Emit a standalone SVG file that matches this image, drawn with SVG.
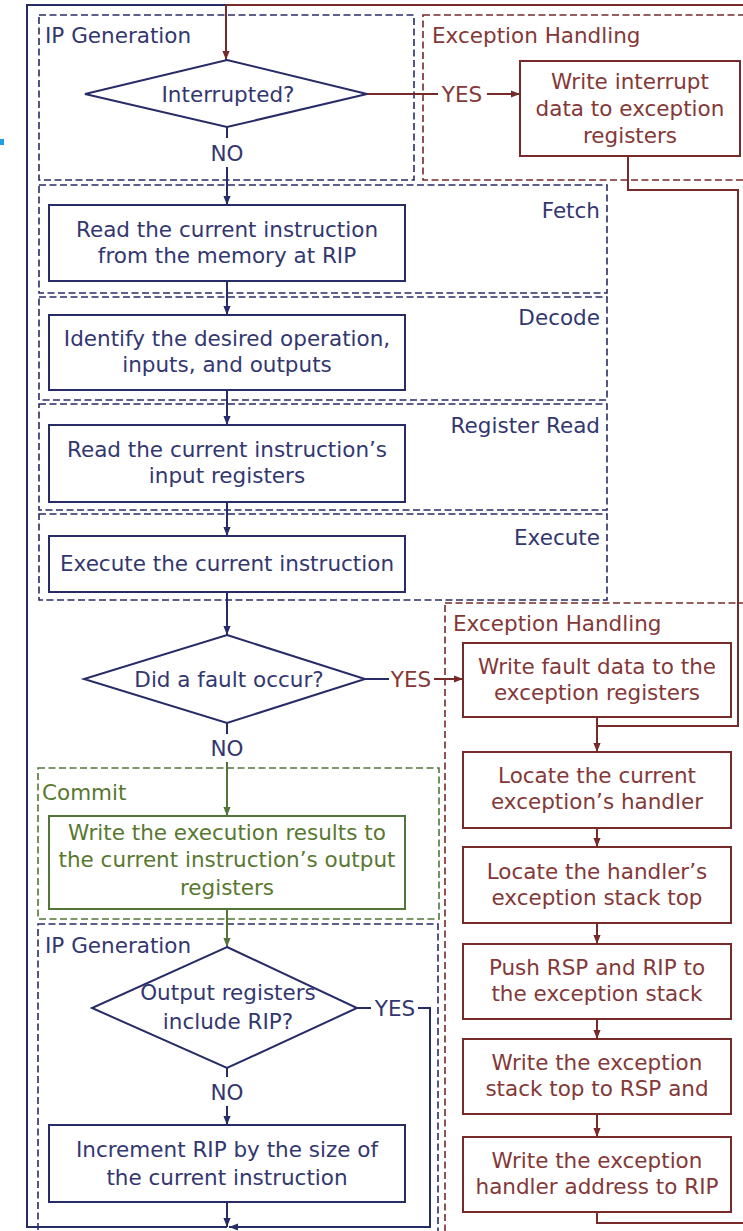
<svg xmlns="http://www.w3.org/2000/svg" width="743" height="1231" viewBox="0 0 743 1231">
<style>
.t{font-family:"DejaVu Sans","Liberation Sans",sans-serif;font-size:21.5px}
.c{text-anchor:middle}
.e{text-anchor:end}
.tn{fill:#333770}
.tr{fill:#843838}
.tg{fill:#587830}
.ln{fill:none;stroke-width:2}
.n{stroke:#272c66}
.r{stroke:#762a2a}
.g{stroke:#52763a}
.d{fill:none;stroke-width:1.6;stroke-dasharray:7 3.5}
.bx{fill:#fff;stroke-width:2}
</style>
<defs>
<marker id="an" viewBox="0 0 10 10" refX="10" refY="5" markerWidth="9" markerHeight="9" markerUnits="userSpaceOnUse" orient="auto"><path d="M0,1 L10,5 L0,9 z" fill="#272c66"/></marker>
<marker id="ar" viewBox="0 0 10 10" refX="10" refY="5" markerWidth="9" markerHeight="9" markerUnits="userSpaceOnUse" orient="auto"><path d="M0,1 L10,5 L0,9 z" fill="#762a2a"/></marker>
<marker id="ag" viewBox="0 0 10 10" refX="10" refY="5" markerWidth="9" markerHeight="9" markerUnits="userSpaceOnUse" orient="auto"><path d="M0,1 L10,5 L0,9 z" fill="#52763a"/></marker>
</defs>
<rect x="0" y="0" width="743" height="1231" fill="#fff"/>
<rect x="0" y="139" width="4" height="6" fill="#1f9fe6"/>

<g id="stages">
<g id="ipgen1"><rect class="d n" x="39" y="15" width="375" height="165"/><text class="t tn" x="45" y="43">IP Generation</text></g>
<g id="exc1"><rect class="d r" x="423" y="15" width="340" height="165"/><text class="t tr" x="432" y="43">Exception Handling</text></g>
<g id="fetch"><rect class="d n" x="39" y="185" width="568" height="108"/><text class="t tn e" x="600" y="218">Fetch</text></g>
<g id="decode"><rect class="d n" x="39" y="297" width="568" height="103"/><text class="t tn e" x="600" y="325">Decode</text></g>
<g id="regread"><rect class="d n" x="39" y="404" width="568" height="106"/><text class="t tn e" x="600" y="433">Register Read</text></g>
<g id="execute"><rect class="d n" x="39" y="514" width="568" height="86"/><text class="t tn e" x="600" y="545">Execute</text></g>
<g id="exc2"><rect class="d r" x="445" y="603" width="320" height="640"/><text class="t tr" x="453" y="631">Exception Handling</text></g>
<g id="commit"><rect class="d g" x="38" y="768" width="401" height="151"/><text class="t tg" x="42" y="800">Commit</text></g>
<g id="ipgen2"><rect class="d n" x="38" y="924" width="400" height="320"/><text class="t tn" x="45" y="953">IP Generation</text></g>
</g>

<g id="connectors">
<polyline class="ln n" points="227,1227 27,1227 27,5 226,5"/>
<polyline class="ln r" points="226,5 750,5"/>
<line class="ln r" x1="226" y1="5" x2="226" y2="60" marker-end="url(#ar)"/>
<line class="ln r" x1="367" y1="94" x2="438" y2="94"/>
<line class="ln r" x1="487" y1="94" x2="520" y2="94" marker-end="url(#ar)"/>
<line class="ln n" x1="227" y1="127" x2="227" y2="138"/>
<line class="ln n" x1="227" y1="167" x2="227" y2="205" marker-end="url(#an)"/>
<line class="ln n" x1="227" y1="281" x2="227" y2="315" marker-end="url(#an)"/>
<line class="ln n" x1="227" y1="390" x2="227" y2="425" marker-end="url(#an)"/>
<line class="ln n" x1="227" y1="502" x2="227" y2="536" marker-end="url(#an)"/>
<line class="ln n" x1="227" y1="592" x2="227" y2="635" marker-end="url(#an)"/>
<line class="ln n" x1="227" y1="723" x2="227" y2="734"/>
<line class="ln g" x1="227" y1="762" x2="227" y2="816" marker-end="url(#ag)"/>
<line class="ln g" x1="227" y1="909" x2="227" y2="947" marker-end="url(#ag)"/>
<line class="ln n" x1="227" y1="1068" x2="227" y2="1077"/>
<line class="ln n" x1="227" y1="1106" x2="227" y2="1125" marker-end="url(#an)"/>
<line class="ln n" x1="227" y1="1202" x2="227" y2="1227" marker-end="url(#an)"/>
<line class="ln n" x1="357" y1="1008" x2="371" y2="1008"/>
<polyline class="ln n" points="418,1008 430,1008 430,1227 229,1227" marker-end="url(#an)"/>
<line class="ln n" x1="365" y1="679" x2="389" y2="679"/>
<line class="ln r" x1="434" y1="679" x2="463" y2="679" marker-end="url(#ar)"/>
<polyline class="ln r" points="628,156 628,190 738,190 738,726 597,726"/>
<line class="ln r" x1="597" y1="717" x2="597" y2="752" marker-end="url(#ar)"/>
<line class="ln r" x1="597" y1="828" x2="597" y2="847" marker-end="url(#ar)"/>
<line class="ln r" x1="597" y1="923" x2="597" y2="944" marker-end="url(#ar)"/>
<line class="ln r" x1="597" y1="1019" x2="597" y2="1039" marker-end="url(#ar)"/>
<line class="ln r" x1="597" y1="1114" x2="597" y2="1137" marker-end="url(#ar)"/>
<polyline class="ln r" points="597,1212 597,1223 750,1223"/>
</g>

<g id="labels">
<text class="t tn c" x="227" y="161">NO</text>
<text class="t tr c" x="462" y="102">YES</text>
<text class="t tr c" x="411" y="687">YES</text>
<text class="t tn c" x="227" y="756">NO</text>
<text class="t tn c" x="395" y="1016">YES</text>
<text class="t tn c" x="227" y="1100">NO</text>
</g>

<g id="interrupted"><polygon class="bx n" points="227,60 367,94 227,127 85,94"/><text class="t tn c" x="228" y="102">Interrupted?</text></g>
<g id="write-interrupt"><rect class="bx r" x="520" y="61" width="220" height="95"/><text class="t tr c" x="630" y="89">Write interrupt</text><text class="t tr c" x="630" y="116">data to exception</text><text class="t tr c" x="630" y="143">registers</text></g>
<g id="read-instr"><rect class="bx n" x="49" y="205" width="356" height="76"/><text class="t tn c" x="227" y="237">Read the current instruction</text><text class="t tn c" x="227" y="263">from the memory at RIP</text></g>
<g id="identify"><rect class="bx n" x="49" y="315" width="356" height="75"/><text class="t tn c" x="227" y="346">Identify the desired operation,</text><text class="t tn c" x="227" y="372">inputs, and outputs</text></g>
<g id="read-regs"><rect class="bx n" x="49" y="425" width="356" height="77"/><text class="t tn c" x="227" y="457">Read the current instruction’s</text><text class="t tn c" x="227" y="483">input registers</text></g>
<g id="exec"><rect class="bx n" x="49" y="536" width="356" height="56"/><text class="t tn c" x="227" y="571">Execute the current instruction</text></g>
<g id="fault"><polygon class="bx n" points="227,635 365,679 227,723 84,679"/><text class="t tn c" x="229" y="687">Did a fault occur?</text></g>
<g id="write-fault"><rect class="bx r" x="463" y="643" width="268" height="74"/><text class="t tr c" x="597" y="674">Write fault data to the</text><text class="t tr c" x="597" y="700">exception registers</text></g>
<g id="locate-handler"><rect class="bx r" x="463" y="752" width="268" height="76"/><text class="t tr c" x="597" y="783">Locate the current</text><text class="t tr c" x="597" y="809">exception’s handler</text></g>
<g id="locate-stack"><rect class="bx r" x="463" y="847" width="268" height="76"/><text class="t tr c" x="597" y="879">Locate the handler’s</text><text class="t tr c" x="597" y="905">exception stack top</text></g>
<g id="push"><rect class="bx r" x="463" y="944" width="268" height="75"/><text class="t tr c" x="597" y="975">Push RSP and RIP to</text><text class="t tr c" x="597" y="1001">the exception stack</text></g>
<g id="write-stack"><rect class="bx r" x="463" y="1039" width="268" height="75"/><text class="t tr c" x="597" y="1070">Write the exception</text><text class="t tr c" x="597" y="1096">stack top to RSP and</text></g>
<g id="write-handler"><rect class="bx r" x="463" y="1137" width="268" height="75"/><text class="t tr c" x="597" y="1168">Write the exception</text><text class="t tr c" x="597" y="1194">handler address to RIP</text></g>
<g id="commit-box"><rect class="bx g" x="49" y="816" width="356" height="93"/><text class="t tg c" x="227" y="840">Write the execution results to</text><text class="t tg c" x="227" y="867">the current instruction’s output</text><text class="t tg c" x="227" y="895">registers</text></g>
<g id="rip-check"><polygon class="bx n" points="227,947 357,1008 227,1068 92,1008"/><text class="t tn c" x="228" y="1000">Output registers</text><text class="t tn c" x="228" y="1029">include RIP?</text></g>
<g id="increment"><rect class="bx n" x="49" y="1125" width="356" height="77"/><text class="t tn c" x="227" y="1157">Increment RIP by the size of</text><text class="t tn c" x="227" y="1185">the current instruction</text></g>
</svg>
